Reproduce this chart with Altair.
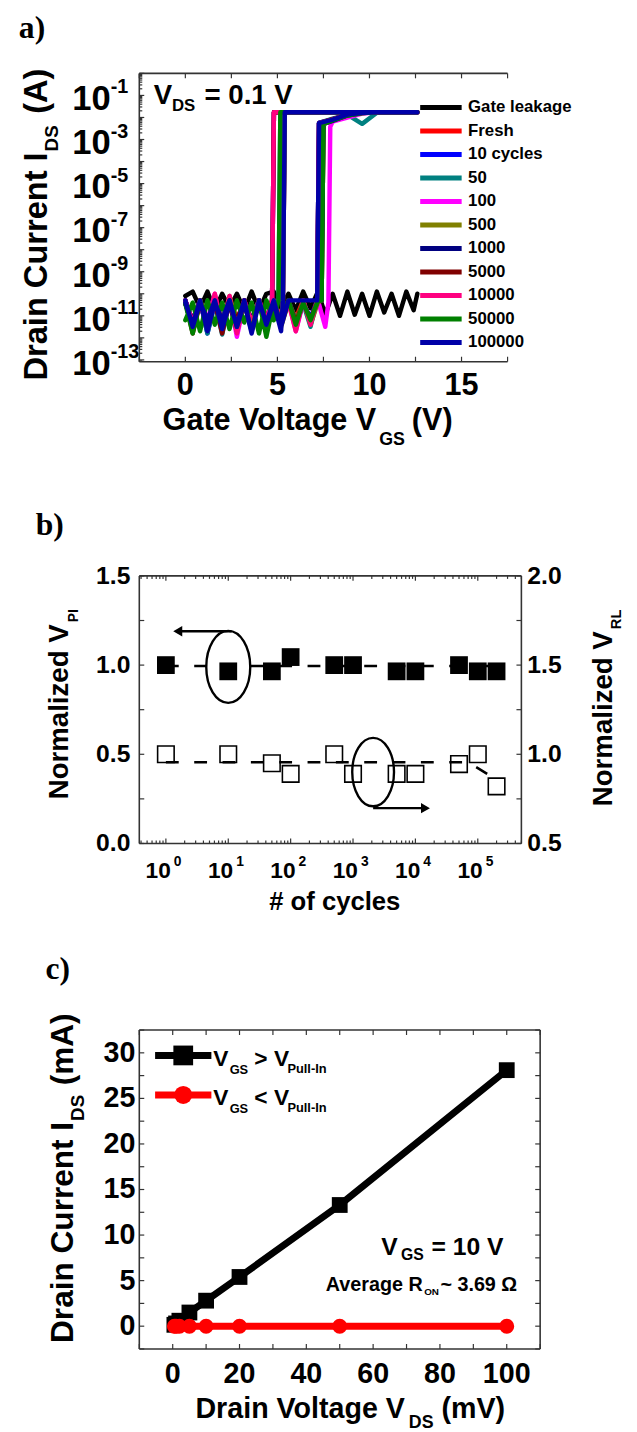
import altair as alt
import pandas as pd

SANS = "Liberation Sans, Arial, Helvetica, sans-serif"
SERIF = "Liberation Serif, Times New Roman, serif"
FRAME = "#333333"
ONE = pd.DataFrame({"k": [0]})

# ======================= Panel (a) data (log10 of I_DS in A) =======================
series_names = ["Gate leakage", "Fresh", "10 cycles", "50", "100", "500",
                "1000", "5000", "10000", "50000", "100000"]
series_colors = ["#000000", "#ff0000", "#0000ff", "#008080", "#ff00ff", "#808000",
                 "#000080", "#800000", "#ff0080", "#008000", "#0000a8"]

black_v = [0.0, 0.4, 0.8, 1.2, 1.6, 2.0, 2.4, 2.8, 3.2, 3.6, 4.0, 4.4, 4.8, 5.2, 5.6, 6.0,
           6.4, 6.8, 7.2, 7.6, 8.0, 8.4, 8.8, 9.2, 9.6, 10.0, 10.4, 10.8, 11.2, 11.6, 12.0,
           12.4, 12.6]
black_e = [-10.1, -9.9, -10.65, -9.9, -10.75, -10.0, -10.65, -10.0, -10.75, -9.9, -10.75,
           -10.0, -9.9, -10.65, -10.0, -10.75, -9.9, -10.65, -9.9, -10.95, -10.0, -11.0,
           -9.9, -10.95, -10.0, -11.0, -9.9, -10.85, -10.0, -11.0, -9.9, -10.75, -10.0]

v_off = [0.0, 0.4, 0.8, 1.2, 1.6, 2.0, 2.4, 2.8, 3.2, 3.6, 4.0, 4.4, 4.8, 5.2, 5.6, 6.0,
         6.4, 6.8, 7.2, 7.6]
v_on = [8.0, 8.8, 9.6, 10.4, 11.2, 12.0, 12.6]
on_level = -1.76
pull_in_v = [7.4, 7.16, 7.16, 7.77, 7.4, 7.4, 7.16, 7.16, 7.4, 7.16]
release_v = [5.3, 5.3, 5.06, 4.71, 5.3, 4.71, 4.71, 4.71, 5.06, 5.3]

fresh_fwd = [-10.3, -11.4, -10.4, -11.6, -10.3, -11.3, -10.45, -11.7, -10.3, -11.2, -10.4,
             -11.5, -10.3, -11.4, -10.4, -11.1, -10.3, -11.3, -10.3, -10.3]
fresh_on = [-2.29, -2.15, -1.91, -1.8, -1.77, -1.76, -1.76, -1.76]
fresh_bwd = [-10.4, -11.2, -10.3, -11.5, -10.4, -11.4, -10.3, -11.1, -10.45, -11.6, -10.3,
             -11.3, -10.4, -11.2, -10.3]

c10_fwd = [-10.45, -11.2, -10.3, -11.8, -10.4, -11.1, -10.3, -11.5, -10.45, -11.3, -10.3,
           -11.6, -10.4, -11.2, -10.3, -11.4, -10.4, -11.1, -10.3]
c10_on = [-2.24, -2.1, -1.87, -1.79, -1.77, -1.76, -1.76, -1.76]
c10_bwd = [-10.3, -11.4, -10.4, -11.2, -10.3, -11.7, -10.45, -11.3, -10.3, -11.5, -10.4,
           -11.1, -10.3, -11.4, -10.3]

c50_fwd = [-10.4, -11.6, -10.3, -11.8, -10.45, -11.3, -10.3, -11.5, -10.4, -11.2, -10.3,
           -11.7, -10.4, -11.4, -10.3, -11.2, -10.45, -11.5, -10.3]
c50_on = [-2.24, -2.05, -1.87, -2.29, -1.79, -1.76, -1.76, -1.76]
c50_bwd = [-10.45, -11.3, -10.3, -11.6, -10.4, -11.85, -10.3, -11.2, -10.45, -11.4, -10.3,
           -11.5, -10.4, -10.3]

c100_fwd = [-10.3, -11.4, -10.4, -11.2, -10.0, -11.7, -10.2, -11.95, -10.4, -11.2, -10.3,
            -11.6, -10.4, -11.4, -10.3, -11.7, -10.4, -11.2, -10.3, -11.5, -10.4]
c100_on = [-2.43, -2.19, -2.01, -1.82, -1.77, -1.76, -1.76, -1.76]
c100_bwd = [-10.4, -11.3, -10.3, -11.5, -10.45, -11.2, -10.3, -11.6, -10.4, -11.4, -10.3,
            -11.2, -10.3]

c500_fwd = [-10.4, -11.5, -10.3, -11.2, -10.45, -11.6, -10.1, -11.3, -10.3, -11.4, -10.4,
            -11.2, -10.3, -11.5, -10.4, -11.3, -10.3, -11.4, -10.4, -10.3]
c500_on = [-2.29, -2.13, -1.91, -1.8, -1.77, -1.76, -1.76, -1.76]
c500_bwd = [-10.3, -11.7, -10.4, -11.4, -10.3, -11.2, -10.4, -11.5, -10.3, -11.3, -10.45,
            -11.6, -10.3, -11.2, -10.3]

c1000_fwd = [-10.45, -11.2, -10.3, -11.5, -10.4, -11.3, -10.3, -11.6, -10.4, -11.2, -10.3,
             -11.4, -10.4, -11.3, -10.3, -11.5, -10.4, -11.2, -10.3, -10.3]
c1000_on = [-2.29, -2.15, -1.91, -1.8, -1.77, -1.76, -1.76, -1.76]
c1000_bwd = [-10.3, -11.5, -10.4, -11.2, -10.3, -11.4, -10.45, -11.7, -10.3, -11.3, -10.4,
             -11.2, -10.3]

c5000_fwd = [-10.4, -11.6, -10.3, -11.4, -10.4, -11.8, -10.3, -11.3, -10.45, -11.5, -10.3,
             -11.2, -10.4, -11.4, -10.3, -11.3, -10.4, -11.2, -10.3]
c5000_on = [-2.26, -2.07, -1.87, -1.79, -1.77, -1.76, -1.76, -1.76]
c5000_bwd = [-10.3, -11.8, -10.4, -11.4, -10.3, -11.7, -10.4, -11.2, -10.3, -11.5, -10.4,
             -11.3, -10.3]

c10000_fwd = [-10.3, -11.3, -10.4, -11.5, -10.0, -11.4, -10.1, -11.8, -10.3, -11.3, -10.4,
              -11.6, -10.3, -11.2, -10.4, -11.7, -10.3, -11.4, -10.3]
c10000_on = [-2.26, -2.1, -1.87, -1.79, -1.77, -1.76, -1.76, -1.76]
c10000_bwd = [-10.4, -11.4, -10.3, -11.6, -10.4, -11.2, -10.3, -11.5, -10.4, -11.3, -10.3,
              -11.2, -10.3]

c50000_fwd = [-10.45, -11.8, -10.3, -11.4, -10.4, -11.2, -10.3, -11.5, -10.4, -11.7, -10.3,
              -11.95, -10.4, -11.3, -10.3, -11.4, -10.4, -11.2, -10.3, -10.3]
c50000_on = [-2.29, -2.13, -1.91, -1.8, -1.77, -1.76, -1.76, -1.76]
c50000_bwd = [-11.2, -10.4, -11.7, -10.3, -11.4, -10.4, -11.6, -10.3, -11.3, -10.4, -11.8,
              -10.3, -11.2, -10.3]

c100000_fwd = [-10.3, -11.5, -10.4, -11.2, -10.3, -11.6, -10.4, -11.4, -10.3, -11.8, -10.4,
               -11.3, -10.3, -11.5, -10.3, -10.3, -10.3, -10.3, -10.3]
c100000_on = [-2.26, -2.1, -1.87, -1.79, -1.77, -1.76, -1.76, -1.76]
c100000_bwd = [-10.4, -11.4, -10.3, -11.7, -10.4, -11.2, -10.3, -11.5, -10.4, -11.8, -10.3,
               -11.4, -10.4, -11.7, -10.3]

fwd_lists = [fresh_fwd, c10_fwd, c50_fwd, c100_fwd, c500_fwd, c1000_fwd, c5000_fwd,
             c10000_fwd, c50000_fwd, c100000_fwd]
on_lists = [fresh_on, c10_on, c50_on, c100_on, c500_on, c1000_on, c5000_on,
            c10000_on, c50000_on, c100000_on]
bwd_lists = [fresh_bwd, c10_bwd, c50_bwd, c100_bwd, c500_bwd, c1000_bwd, c5000_bwd,
             c10000_bwd, c50000_bwd, c100000_bwd]

a_exps = [-1, -3, -5, -7, -9, -11, -13]
a_exp_labels = ["-1", "-3", "-5", "-7", "-9", "-11", "-13"]
a_xticks = [0, 5, 10, 15]

rows = []
for v, e in zip(black_v, black_e):
    rows.append({"s": "Gate leakage", "v": v, "e": e})
for name, pi, rl, fwd, on, bwd in zip(series_names[1:], pull_in_v, release_v,
                                      fwd_lists, on_lists, bwd_lists):
    pts = list(zip(v_off[:len(fwd) - 1], fwd[:-1]))
    pts += [(pi, fwd[-1]), (pi + 0.1, on[0])]
    pts += list(zip(v_on, on[1:]))
    pts += [(rl + 0.1, on_level), (rl, bwd[-1])]
    pts += list(zip(v_off[:len(bwd) - 1], bwd[:-1]))[::-1]
    for v, e in pts:
        rows.append({"s": name, "v": v, "e": e})
df_a = pd.DataFrame(rows)
df_a["k"] = range(len(df_a))
df_a["i"] = 10.0 ** df_a["e"]

# ======================= Panel (b) data =======================
cycles = [1, 10, 50, 100, 500, 1000, 5000, 10000, 50000, 100000, 200000]
v_pi_norm = [1.00, 0.965, 0.965, 1.045, 1.00, 1.00, 0.965, 0.965, 1.00, 0.965, 0.965]
v_rl_norm = [1.00, 1.00, 0.95, 0.89, 1.00, 0.89, 0.89, 0.89, 0.945, 1.00, 0.82]
pi_fit_x = [1, 200000]
pi_fit_y = [0.995, 0.995]
rl_fit_x = [1, 70000, 150000]
rl_fit_y = [0.955, 0.955, 0.885]
b_left_ticks = [0.0, 0.5, 1.0, 1.5]
b_left_labels = ["0.0", "0.5", "1.0", "1.5"]
b_right_ticks = [0.5, 1.0, 1.5, 2.0]
b_right_labels = ["0.5", "1.0", "1.5", "2.0"]
b_x_exps = [0, 1, 2, 3, 4, 5]

# ======================= Panel (c) data =======================
vds = [0.5, 1, 2, 5, 10, 20, 50, 100]
ids_on = [0.15, 0.3, 0.6, 1.5, 2.8, 5.4, 13.3, 28.1]
ids_off = [0, 0, 0, 0, 0, 0, 0, 0]
c_yticks = [0, 5, 10, 15, 20, 25, 30]
c_xticks = [0, 20, 40, 60, 80, 100]


# ======================= helpers =======================
def txt(text, x, y, size, align="left", baseline="alphabetic", angle=0,
        font=SANS, weight="bold"):
    return alt.Chart(ONE).mark_text(
        text=text, align=align, baseline=baseline, angle=angle, font=font,
        fontSize=size, fontWeight=weight, color="black"
    ).encode(x=alt.value(x), y=alt.value(y))


def rule(**enc):
    return alt.Chart(ONE).mark_rule(color=FRAME, strokeWidth=1.6).encode(
        **{k: alt.value(v) for k, v in enc.items()})


def frame(W, H, right=True):
    out = [rule(x=0, y=0, y2=H), rule(x=0, x2=W, y=0), rule(x=0, x2=W, y=H)]
    if right:
        out.append(rule(x=W, y=0, y2=H))
    return out


def ticks_x(vals, scale, H, L):
    d = pd.DataFrame({"t": vals})
    ex = alt.X("t:Q", scale=scale, axis=None)
    return [
        alt.Chart(d).mark_rule(color=FRAME, strokeWidth=1.2).encode(
            x=ex, y=alt.value(0), y2=alt.value(L)),
        alt.Chart(d).mark_rule(color=FRAME, strokeWidth=1.2).encode(
            x=ex, y=alt.value(H - L), y2=alt.value(H)),
    ]


def ticks_y(vals, scale, W, L, left=True, right=True):
    d = pd.DataFrame({"t": vals})
    ey = alt.Y("t:Q", scale=scale, axis=None)
    out = []
    if left:
        out.append(alt.Chart(d).mark_rule(color=FRAME, strokeWidth=1.2).encode(
            y=ey, x=alt.value(0), x2=alt.value(L)))
    if right:
        out.append(alt.Chart(d).mark_rule(color=FRAME, strokeWidth=1.2).encode(
            y=ey, x=alt.value(W - L), x2=alt.value(W)))
    return out


# ======================= Panel (a) =======================
WA, HA = 373, 292
xa = alt.Scale(domain=[-2.5, 17.5], nice=False, zero=False)
ya = alt.Scale(type="log", domain=[8.3e-14, 1], nice=False)

lines_a = alt.Chart(df_a).mark_line(
    strokeWidth=4.5, strokeJoin="round", strokeCap="round", clip=True
).encode(
    x=alt.X("v:Q", scale=xa, axis=None),
    y=alt.Y("i:Q", scale=ya, axis=None),
    color=alt.Color("s:N", scale=alt.Scale(domain=series_names, range=series_colors),
                    legend=alt.Legend(
                        title=None, orient="none", legendX=282, legendY=27,
                        symbolType="stroke", symbolSize=1764, symbolStrokeWidth=5,
                        clipHeight=15, rowPadding=5.8, labelFont=SANS,
                        labelFontSize=17, labelFontWeight="bold", labelColor="black",
                        labelOffset=4, padding=0, labelLimit=220)),
    order=alt.Order("k:Q"),
)

a_dec = [10.0 ** n for n in range(-13, 1)]
a_minor = [m * 10.0 ** n for n in range(-14, 0) for m in range(2, 10)
           if m * 10.0 ** n >= 8.3e-14]
a_xt = [-2.5, 0, 2.5, 5, 7.5, 10, 12.5, 15, 17.5]

ylab_a = pd.DataFrame({"i": [10.0 ** e for e in a_exps], "lab": ["10"] * len(a_exps),
                       "ex": a_exp_labels})
a_ylab10 = alt.Chart(ylab_a).mark_text(
    align="right", baseline="middle", dy=4, font=SANS, fontSize=35, fontWeight="bold",
    color="black").encode(x=alt.value(-29), y=alt.Y("i:Q", scale=ya, axis=None),
                          text="lab:N")
a_ylabex = alt.Chart(ylab_a).mark_text(
    align="left", baseline="alphabetic", dy=-2, font=SANS, fontSize=20, fontWeight="bold",
    color="black").encode(x=alt.value(-29), y=alt.Y("i:Q", scale=ya, axis=None),
                          text="ex:N")
a_xlab = alt.Chart(pd.DataFrame({"t": a_xticks})).mark_text(
    align="center", baseline="alphabetic", font=SANS, fontSize=31, fontWeight="bold",
    color="black").encode(x=alt.X("t:Q", scale=xa, axis=None), y=alt.value(HA + 34),
                          text="t:Q")

panel_a = alt.layer(
    *frame(WA, HA, right=False),
    *ticks_y(a_dec, ya, WA, 5, right=False),
    *ticks_y(a_minor, ya, WA, 3, right=False),
    *ticks_x(a_xt, xa, HA, 5),
    lines_a,
    a_ylab10, a_ylabex, a_xlab,
    txt("a)", -122, -36, 32, font=SERIF),
    txt("V", 14.7, 31, 28), txt("DS", 33, 38, 17), txt("= 0.1 V", 66, 31, 28),
    txt("Drain Current I", -94, 80, 33, align="right", angle=270),
    txt("DS", -82, 79, 19, angle=270),
    txt("(A)", -94, 41, 33, angle=270),
    txt("Gate Voltage V", 240, HA + 69, 31, align="right"),
    txt("GS", 243, HA + 84, 18),
    txt("(V)", 276, HA + 69, 31),
).properties(width=WA, height=HA)

# ======================= Panel (b) =======================
WB, HB = 387, 271
xb = alt.Scale(type="log", domain=[0.375, 500000], nice=False)
yb = alt.Scale(domain=[0, 1.5], nice=False, zero=False)
yb2 = alt.Scale(domain=[0.5, 2.0], nice=False, zero=False)

df_b = pd.DataFrame({"n": cycles, "pi": v_pi_norm, "rl": v_rl_norm})
b_pi_fit = alt.Chart(pd.DataFrame({"n": pi_fit_x, "y": pi_fit_y})).mark_line(
    color="black", strokeWidth=2.6, strokeDash=[13, 15.7]).encode(
    x=alt.X("n:Q", scale=xb, axis=None), y=alt.Y("y:Q", scale=yb, axis=None))
b_rl_fit = alt.Chart(pd.DataFrame({"n": rl_fit_x, "y": rl_fit_y})).mark_line(
    color="black", strokeWidth=2.6, strokeDash=[13, 15.7]).encode(
    x=alt.X("n:Q", scale=xb, axis=None), y=alt.Y("y:Q", scale=yb2, axis=None))
b_pi = alt.Chart(df_b).mark_square(color="black", opacity=1, size=324).encode(
    x=alt.X("n:Q", scale=xb, axis=None), y=alt.Y("pi:Q", scale=yb, axis=None))
b_rl = alt.Chart(df_b).mark_point(shape="square", filled=False, color="black",
                                   strokeWidth=1.6, opacity=1, size=280).encode(
    x=alt.X("n:Q", scale=xb, axis=None), y=alt.Y("rl:Q", scale=yb2, axis=None))

ELLIPSE = ("M0,-1.8 C0.61,-1.8 1.1,-0.994 1.1,0 C1.1,0.994 0.61,1.8 0,1.8 "
           "C-0.61,1.8 -1.1,0.994 -1.1,0 C-1.1,-0.994 -0.61,-1.8 0,-1.8 Z")
ell_n = [10, 2100]
ell_y = [0.99, 0.40]
ell_size = [1640, 1480]
b_ell = alt.Chart(pd.DataFrame({"n": ell_n, "y": ell_y, "sz": ell_size})).mark_point(
    shape=ELLIPSE, filled=False, color="black", strokeWidth=2.4, opacity=1).encode(
    x=alt.X("n:Q", scale=xb, axis=None), y=alt.Y("y:Q", scale=yb, axis=None),
    size=alt.Size("sz:Q", scale=None, legend=None))

arrow1_x = [11.3, 1.55]
arrow1_y = [1.19, 1.19]
arrow2_x = [2100, 14500]
arrow2_y = [0.198, 0.198]
b_arr1 = alt.Chart(pd.DataFrame({"n": arrow1_x, "y": arrow1_y})).mark_line(
    color="black", strokeWidth=2.4).encode(
    x=alt.X("n:Q", scale=xb, axis=None), y=alt.Y("y:Q", scale=yb, axis=None))
b_arr2 = alt.Chart(pd.DataFrame({"n": arrow2_x, "y": arrow2_y})).mark_line(
    color="black", strokeWidth=2.4).encode(
    x=alt.X("n:Q", scale=xb, axis=None), y=alt.Y("y:Q", scale=yb, axis=None))
b_head1 = alt.Chart(pd.DataFrame({"n": arrow1_x[-1:], "y": arrow1_y[-1:]})).mark_point(
    shape="triangle-left", filled=True, color="black", opacity=1, size=110).encode(
    x=alt.X("n:Q", scale=xb, axis=None), y=alt.Y("y:Q", scale=yb, axis=None))
b_head2 = alt.Chart(pd.DataFrame({"n": arrow2_x[-1:], "y": arrow2_y[-1:]})).mark_point(
    shape="triangle-right", filled=True, color="black", opacity=1, size=110).encode(
    x=alt.X("n:Q", scale=xb, axis=None), y=alt.Y("y:Q", scale=yb, axis=None))

b_dec = [10.0 ** n for n in range(0, 6)]
b_minor = [m * 10.0 ** n for n in range(-1, 6) for m in range(2, 10)
           if 0.375 <= m * 10.0 ** n <= 500000]
b_yt = [0, 0.25, 0.5, 0.75, 1.0, 1.25, 1.5]

b_ylab = alt.Chart(pd.DataFrame({"t": b_left_ticks, "lab": b_left_labels})).mark_text(
    align="right", baseline="middle", font=SANS, fontSize=25, fontWeight="bold",
    color="black").encode(x=alt.value(-9), y=alt.Y("t:Q", scale=yb, axis=None),
                          text="lab:N")
b_ylab2 = alt.Chart(pd.DataFrame({"t": b_right_ticks, "lab": b_right_labels})).mark_text(
    align="left", baseline="middle", font=SANS, fontSize=25, fontWeight="bold",
    color="black").encode(x=alt.value(WB + 6), y=alt.Y("t:Q", scale=yb2, axis=None),
                          text="lab:N")
xlab_b = pd.DataFrame({"t": [10.0 ** e for e in b_x_exps], "lab": ["10"] * len(b_x_exps),
                       "ex": [str(e) for e in b_x_exps]})
b_xlab10 = alt.Chart(xlab_b).mark_text(
    align="right", baseline="alphabetic", dx=5, font=SANS, fontSize=23, fontWeight="bold",
    color="black").encode(x=alt.X("t:Q", scale=xb, axis=None), y=alt.value(HB + 35),
                          text="lab:N")
b_xlabex = alt.Chart(xlab_b).mark_text(
    align="left", baseline="alphabetic", dx=8, font=SANS, fontSize=14, fontWeight="bold",
    color="black").encode(x=alt.X("t:Q", scale=xb, axis=None), y=alt.value(HB + 23),
                          text="ex:N")

panel_b = alt.layer(
    *frame(WB, HB),
    *ticks_x(b_dec, xb, HB, 5),
    *ticks_x(b_minor, xb, HB, 3),
    *ticks_y(b_yt, yb, WB, 5),
    b_pi_fit, b_rl_fit, b_pi, b_rl, b_ell, b_arr1, b_arr2, b_head1, b_head2,
    b_ylab, b_ylab2, b_xlab10, b_xlabex,
    txt("b)", -105, -41, 32, font=SERIF),
    txt("Normalized V", -72, 49, 28, align="right", angle=270),
    txt("PI", -62, 47, 14, angle=270),
    txt("Normalized V", WB + 92, 56, 28, align="right", angle=270),
    txt("RL", WB + 101, 54, 15, angle=270),
    txt("# of cycles", 198, HB + 67, 26, align="center"),
).resolve_scale(y="independent").properties(width=WB, height=HB)

# ======================= Panel (c) =======================
WC, HC = 406, 323
xc = alt.Scale(domain=[-10, 110], nice=False, zero=False)
yc = alt.Scale(domain=[-2.5, 32.5], nice=False, zero=False)
df_c = pd.DataFrame({"v": vds, "on": ids_on, "off": ids_off})

c_on_line = alt.Chart(df_c).mark_line(color="black", strokeWidth=7).encode(
    x=alt.X("v:Q", scale=xc, axis=None), y=alt.Y("on:Q", scale=yc, axis=None))
c_on_pts = alt.Chart(df_c).mark_square(color="black", opacity=1, size=256).encode(
    x=alt.X("v:Q", scale=xc, axis=None), y=alt.Y("on:Q", scale=yc, axis=None))
c_off_line = alt.Chart(df_c).mark_line(color="#ff0000", strokeWidth=7).encode(
    x=alt.X("v:Q", scale=xc, axis=None), y=alt.Y("off:Q", scale=yc, axis=None))
c_off_pts = alt.Chart(df_c).mark_circle(color="#ff0000", opacity=1, size=230).encode(
    x=alt.X("v:Q", scale=xc, axis=None), y=alt.Y("off:Q", scale=yc, axis=None))

c_xt = [-10, 0, 10, 20, 30, 40, 50, 60, 70, 80, 90, 100, 110]
c_yt = [-2.5, 0, 2.5, 5, 7.5, 10, 12.5, 15, 17.5, 20, 22.5, 25, 27.5, 30, 32.5]

c_ylab = alt.Chart(pd.DataFrame({"t": c_yticks})).mark_text(
    align="right", baseline="middle", font=SANS, fontSize=29, fontWeight="bold",
    color="black").encode(x=alt.value(-4), y=alt.Y("t:Q", scale=yc, axis=None),
                          text="t:Q")
c_xlab = alt.Chart(pd.DataFrame({"t": c_xticks})).mark_text(
    align="center", baseline="alphabetic", font=SANS, fontSize=29, fontWeight="bold",
    color="black").encode(x=alt.X("t:Q", scale=xc, axis=None), y=alt.value(HC + 34),
                          text="t:Q")

leg_on_line = alt.Chart(ONE).mark_rule(color="black", strokeWidth=7).encode(
    x=alt.value(16), x2=alt.value(73), y=alt.value(25.7))
leg_on_pt = alt.Chart(ONE).mark_square(color="black", opacity=1, size=400).encode(
    x=alt.value(44.5), y=alt.value(25.7))
leg_off_line = alt.Chart(ONE).mark_rule(color="#ff0000", strokeWidth=7).encode(
    x=alt.value(16), x2=alt.value(73), y=alt.value(65.7))
leg_off_pt = alt.Chart(ONE).mark_circle(color="#ff0000", opacity=1, size=330).encode(
    x=alt.value(44.5), y=alt.value(65.7))

panel_c = alt.layer(
    *frame(WC, HC),
    *ticks_x(c_xt, xc, HC, 5),
    *ticks_y(c_yt, yc, WC, 5),
    c_on_line, c_on_pts, c_off_line, c_off_pts,
    c_ylab, c_xlab,
    leg_on_line, leg_on_pt, leg_off_line, leg_off_pt,
    txt("V", 75, 36, 23), txt("GS", 91.5, 44, 13), txt("> V", 116.5, 36, 23),
    txt("Pull-In", 150, 43, 13),
    txt("V", 75, 76, 23), txt("GS", 91.5, 84, 13), txt("< V", 116.5, 76, 23),
    txt("Pull-In", 150, 83, 13),
    txt("V", 245, 228, 25), txt("GS", 265, 233, 16), txt("= 10 V", 296, 228, 25),
    txt("Average R", 287, 264.7, 20, align="right"), txt("ON", 288.5, 268.5, 10),
    txt("~ 3.69 \u03a9", 305, 264.7, 20),
    txt("c)", -95, -52, 32, font=SERIF),
    txt("Drain Current I", -66.7, 93, 32, align="right", angle=270),
    txt("DS", -56, 92, 19, angle=270),
    txt("(mA)", -66.7, 56, 32, angle=270),
    txt("Drain Voltage V", 269, HC + 70, 29, align="right"),
    txt("DS", 273, HC + 80, 18),
    txt("(mV)", 306, HC + 70, 29),
).properties(width=WC, height=HC)

lower = alt.vconcat(panel_b, panel_c, spacing=189, bounds="flush")
chart = alt.vconcat(panel_a, lower, spacing=217, bounds="flush").properties(
    padding={"left": 11, "top": -5, "right": 5, "bottom": 0},
    background="white",
).configure_view(stroke=None)

chart.save("out.html", embed_options={"renderer": "svg", "actions": False})
